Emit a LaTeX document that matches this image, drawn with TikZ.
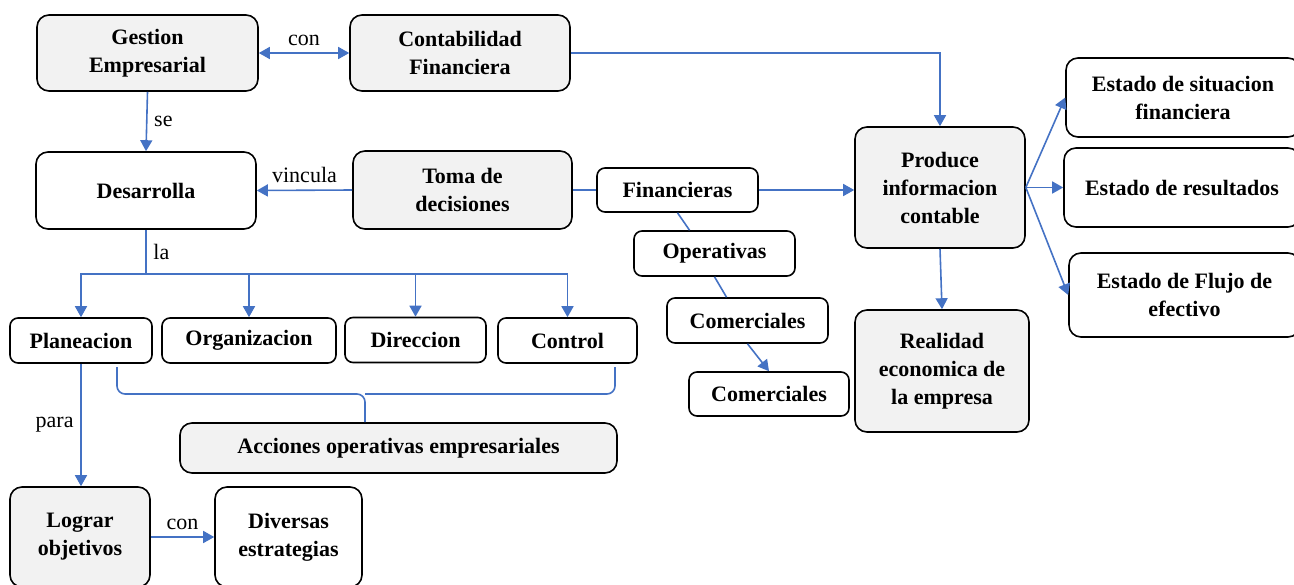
\documentclass[tikz,border=0pt]{standalone}
\usepackage{fontspec}
\setmainfont{Liberation Serif}
\usetikzlibrary{calc}
\usetikzlibrary{arrows.meta}
\definecolor{linkblue}{HTML}{4472C4}
\definecolor{boxgray}{HTML}{F2F2F2}
\def\BraceY{394}
\def\BraceTop{367}

\begin{document}
\begin{tikzpicture}[x=.5pt,y=-.5pt,
  cbox/.style={draw=black, line width=.8pt, rounded corners=6pt, fill=white,
    align=center, inner sep=1pt, font=\fontsize{11}{14}\selectfont\bfseries},
  gbox/.style={cbox, fill=boxgray},
  sz/.style 2 args={minimum width=#1*.5pt, minimum height=#2*.5pt},
  conn/.style={draw=linkblue, line width=.8pt},
  arr/.style={conn, -{Triangle[length=5.5pt,width=6pt]}},
  dblarr/.style={conn, {Triangle[length=5.5pt,width=6pt]}-{Triangle[length=5.5pt,width=6pt]}},
  lbl/.style={font=\fontsize{11}{14}\selectfont}]
  \useasboundingbox (0,0) rectangle (1294,584);
  % top row
  \node[gbox, sz={221}{76}] (gestion) at (147.5,53) {Gestion\\Empresarial};
  \node[gbox, sz={220}{76}] (contab) at (460,53) {Contabilidad\\Financiera};
  \node[cbox, sz={220}{77}] (desarr) at (146,190.5) {Desarrolla};
  \node[gbox, sz={219}{78}] (toma) at (462.5,190) {Toma de\\decisiones};
  % kinds of decisions
  \node[cbox, sz={161}{44}, rounded corners=4pt] (fin) at (677.5,190) {Financieras};
  \node[cbox, sz={161}{45}, rounded corners=4pt] (oper) at (714.5,253.5) {Operativas};
  \node[cbox, sz={161}{45}, rounded corners=4pt] (com1) at (747.5,320.5) {Comerciales};
  \node[cbox, sz={160}{44}, rounded corners=4pt] (com2) at (769,394) {Comerciales};
  % accounting information
  \node[gbox, sz={170}{121}] (produce) at (940,187.5) {Produce\\informacion\\contable};
  \node[gbox, sz={174}{122}] (realidad) at (942,371) {Realidad\\economica de\\la empresa};
  \node[cbox, sz={234}{79}] (sit) at (1183,97.5) {Estado de situacion\\financiera};
  \node[cbox, sz={236}{79}] (res) at (1182,187.5) {Estado de resultados};
  \node[cbox, sz={231}{84}] (flujo) at (1184.5,295) {Estado de Flujo de\\efectivo};
  % functions
  \node[cbox, sz={142}{45}, rounded corners=4pt] (plan) at (81,340.5) {Planeacion};
  \node[cbox, sz={174}{45}, rounded corners=4pt] (org) at (249,340.5) {Organizacion};
  \node[cbox, sz={141}{45}, rounded corners=4pt] (dir) at (415.5,340) {Direccion};
  \node[cbox, sz={139}{45}, rounded corners=4pt] (ctrl) at (567.5,340.5) {Control};
  \node[gbox, sz={437}{50}] (acc) at (398.5,448) {Acciones operativas empresariales};
  \node[gbox, sz={140}{100}] (lograr) at (80,537) {Lograr\\objetivos};
  \node[cbox, sz={147}{100}] (divers) at (288.5,537) {Diversas\\estrategias};
  % connectors
  \draw[dblarr] (gestion) -- node[lbl, midway, above] {con} (contab);
  \draw[arr] (contab.east) -| (produce.north);
  \draw[arr] (gestion.south) -- node[lbl, midway, right] {se} (desarr.north);
  \draw[arr] (toma.west) -- node[lbl, midway, above] {vincula} (desarr.east);
  \draw[conn] (toma.east) -- (fin.west);
  \draw[arr] (fin.east) -- (fin.east -| produce.west);
  \draw[conn] (fin.south) -- (oper.137);
  \draw[conn] (oper.south) -- (com1.132);
  \draw[arr] (com1.south) -- (com2.north);
  \draw[arr] (produce.south) -- (realidad.north);
  \foreach \estado in {sit,res,flujo}
    \draw[arr] (produce.east) -- (\estado.west);
  % la
  \draw[conn] (desarr.south) -- node[lbl, midway, right] {la} ++(0,44) coordinate (bar);
  \foreach \fn in {plan,org,dir,ctrl}
    \draw[arr] (bar) -| (\fn.north);
  % brace
  \coordinate (brc) at (365,\BraceY);
  \draw[conn, rounded corners=4pt] (117,\BraceTop) |- (brc) -- (brc |- acc.north);
  \draw[conn, rounded corners=4pt] (615,\BraceTop) |- (brc);
  \draw[arr] (plan.south) -- node[lbl, midway, left] {para} (plan.south |- lograr.north);
  \draw[arr] (lograr.east) -- node[lbl, midway, above] {con} (divers.west);
\end{tikzpicture}
\end{document}
